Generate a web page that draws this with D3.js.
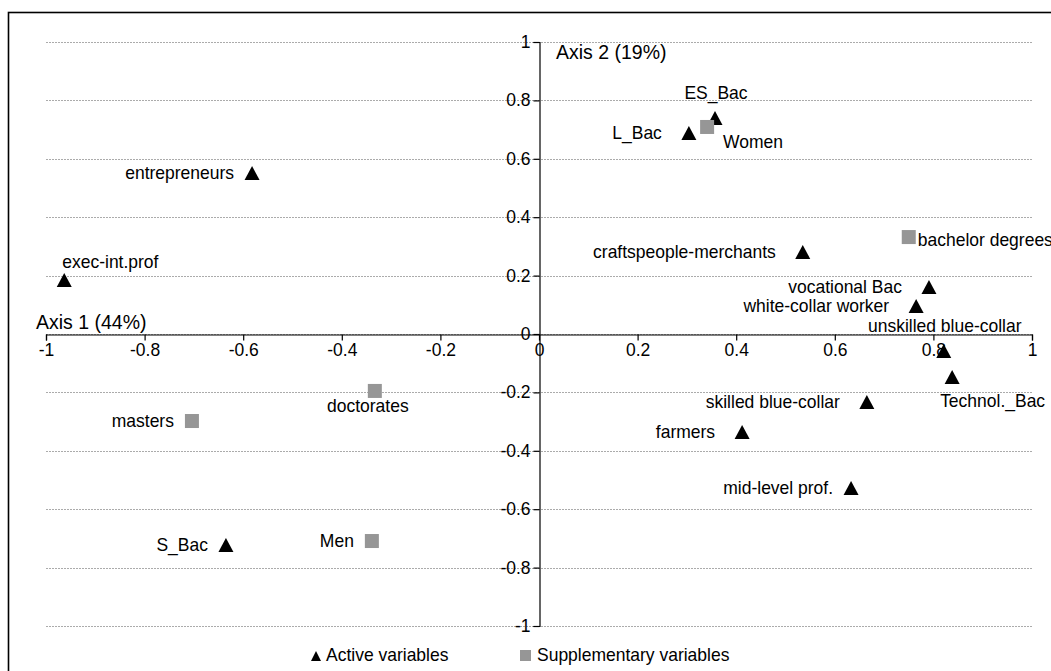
<!DOCTYPE html>
<html>
<head>
<meta charset="utf-8">
<script src="https://cdn.jsdelivr.net/npm/d3@7"></script>
<style>
  html, body { margin: 0; padding: 0; background: #fff; }
  svg { display: block; font-family: "Liberation Sans", Arial, sans-serif; }
</style>
</head>
<body>
<svg id="chart" width="1051" height="671"></svg>
<script>
// ---- data ----
const names = ["ES_Bac", "L_Bac", "Women", "entrepreneurs", "exec-int.prof",
  "craftspeople-merchants", "bachelor degrees", "vocational Bac", "white-collar worker",
  "unskilled blue-collar", "Technol._Bac", "skilled blue-collar", "farmers",
  "mid-level prof.", "S_Bac", "Men", "masters", "doctorates"];
const axis1 = [0.357, 0.304, 0.341, -0.582, -0.963, 0.535, 0.750, 0.791, 0.765,
  0.821, 0.838, 0.665, 0.412, 0.633, -0.635, -0.339, -0.704, -0.333];
const axis2 = [0.740, 0.688, 0.709, 0.551, 0.185, 0.281, 0.332, 0.161, 0.096,
  -0.058, -0.147, -0.233, -0.336, -0.527, -0.723, -0.709, -0.298, -0.195];
const kind = ["active", "active", "supp", "active", "active", "active", "supp", "active", "active",
  "active", "active", "active", "active", "active", "active", "supp", "supp", "supp"];
const labelSide = ["above", "left", "belowRight", "leftNear", "aboveRight", "left", "right", "left", "left",
  "above", "belowFar", "left", "left", "leftNear", "leftNear", "leftNear", "leftNear", "below"];
const ticks = [-1, -0.8, -0.6, -0.4, -0.2, 0, 0.2, 0.4, 0.6, 0.8, 1];
const axisTitles = ["Axis 1 (44%)", "Axis 2 (19%)"];
const legendLabels = ["Active variables", "Supplementary variables"];

// ---- layout ----
const svg = d3.select("#chart");
const x = d3.scaleLinear().domain([-1, 1]).range([46, 1032]);
const y = d3.scaleLinear().domain([-1, 1]).range([626, 42]);
const fmt = d => String(Math.round(d * 10) / 10);
const FS = 17.5;
const SY = 1.06; // vertical stretch of glyphs

function stretchedText(parent, tx, ty, str, size, anchor) {
  return parent.append("text")
    .attr("transform", `translate(${tx},${ty}) scale(1,${SY})`)
    .attr("font-size", size)
    .attr("text-anchor", anchor || "start")
    .attr("fill", "#000")
    .text(str);
}

svg.append("rect").attr("width", 1051).attr("height", 671).attr("fill", "#fff");
svg.append("rect").attr("x", 8.5).attr("y", 12.5).attr("width", 1200).attr("height", 800)
  .attr("fill", "none").attr("stroke", "#000").attr("stroke-width", 1.6);

// gridlines
svg.append("g").selectAll("line").data(ticks).join("line")
  .attr("x1", x(-1)).attr("x2", x(1))
  .attr("y1", d => Math.round(y(d)) + 0.5).attr("y2", d => Math.round(y(d)) + 0.5)
  .attr("stroke", "#ababab").attr("stroke-width", 1).attr("stroke-dasharray", "2,1");

// axes
const gx = svg.append("g").attr("transform", `translate(0,${Math.round(y(0)) + 0.5})`)
  .call(d3.axisBottom(x).tickValues(ticks).tickFormat(fmt).tickSize(6).tickPadding(4));
const gy = svg.append("g").attr("transform", `translate(${Math.round(x(0)) + 0.5},0)`)
  .call(d3.axisLeft(y).tickValues(ticks).tickFormat(fmt).tickSize(6).tickPadding(3));
[gx, gy].forEach(g => {
  g.selectAll("path, line").attr("stroke", "#000").attr("stroke-width", 1.2);
  g.selectAll("text").attr("font-size", FS).attr("fill", "#000")
    .attr("font-family", '"Liberation Sans", Arial, sans-serif')
    .attr("transform", `scale(1,${SY})`);
});
gx.selectAll("text").attr("y", 8);
gy.selectAll("text").attr("dy", "0.3em");

// axis titles
stretchedText(svg, 36, 329, axisTitles[0], 19.5);
stretchedText(svg, 556, 59, axisTitles[1], 19.5);

// points
const pts = names.map((n, i) => ({ name: n, a1: axis1[i], a2: axis2[i], kind: kind[i], side: labelSide[i] }));
const triPath = "M0,-7L7.5,7L-7.5,7Z";

const g = svg.append("g");
g.selectAll("path.act").data(pts.filter(d => d.kind === "active")).join("path")
  .attr("class", "act")
  .attr("d", triPath)
  .attr("transform", d => `translate(${x(d.a1)},${y(d.a2)})`)
  .attr("fill", "#000");
g.selectAll("rect.sup").data(pts.filter(d => d.kind === "supp")).join("rect")
  .attr("class", "sup")
  .attr("x", d => x(d.a1) - 7).attr("y", d => y(d.a2) - 7)
  .attr("width", 14).attr("height", 14)
  .attr("fill", "#969696");

const place = {
  left:       { anchor: "end",    dx: -27, dy: 6 },
  leftNear:   { anchor: "end",    dx: -18, dy: 6 },
  right:      { anchor: "start",  dx: 9,   dy: 9 },
  above:      { anchor: "middle", dx: 1,   dy: -19 },
  below:      { anchor: "middle", dx: -7,  dy: 21 },
  aboveRight: { anchor: "start",  dx: -2,  dy: -12 },
  belowRight: { anchor: "start",  dx: 16,  dy: 21 },
  belowFar:   { anchor: "start",  dx: -12, dy: 30 }
};
pts.forEach(d => {
  const p = place[d.side];
  stretchedText(g, x(d.a1) + p.dx, y(d.a2) + p.dy, d.name, FS, p.anchor);
});

// legend
const lg = svg.append("g");
lg.append("path").attr("d", "M0,-5L5,5L-5,5Z")
  .attr("transform", "translate(316,656)").attr("fill", "#000");
stretchedText(lg, 326, 661, legendLabels[0], FS);
lg.append("rect").attr("x", 520).attr("y", 650).attr("width", 11).attr("height", 11).attr("fill", "#969696");
stretchedText(lg, 537, 661, legendLabels[1], FS);
</script>
</body>
</html>
